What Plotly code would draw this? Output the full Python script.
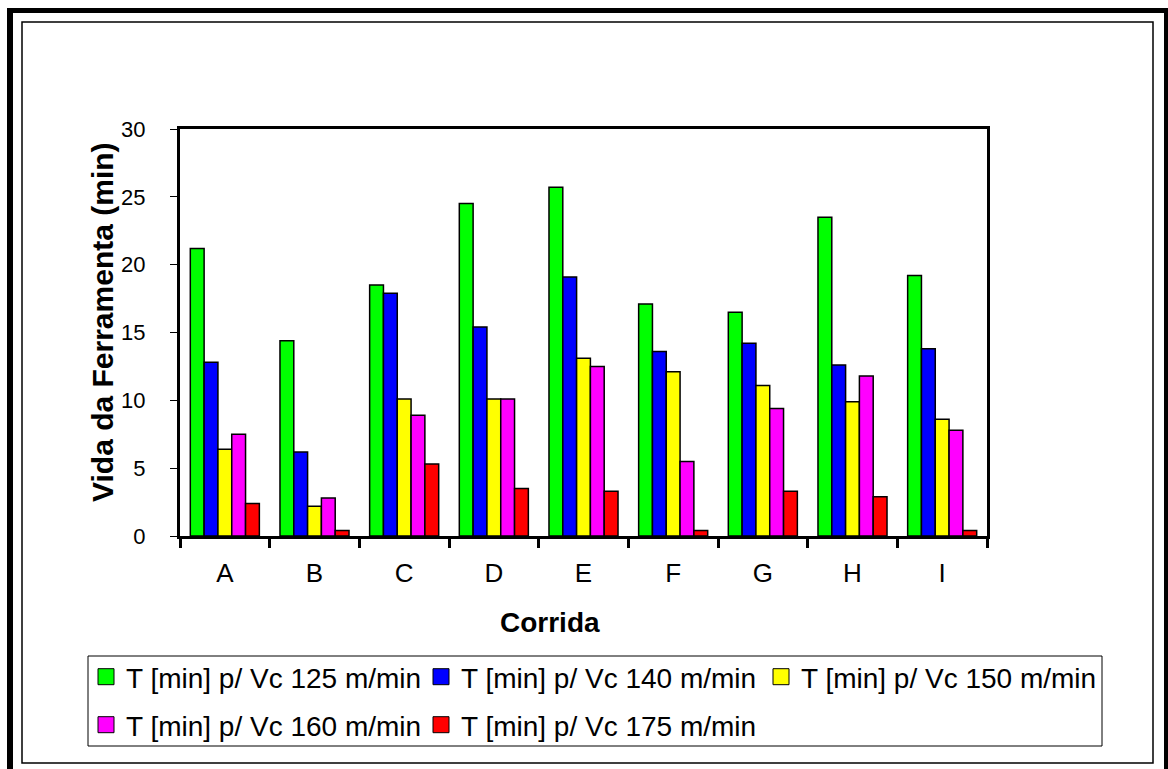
import plotly.graph_objects as go

corridas = ["A", "B", "C", "D", "E", "F", "G", "H", "I"]

vc125 = [21.2, 14.4, 18.5, 24.5, 25.7, 17.1, 16.5, 23.5, 19.2]
vc140 = [12.8, 6.2, 17.9, 15.4, 19.1, 13.6, 14.2, 12.6, 13.8]
vc150 = [6.4, 2.2, 10.1, 10.1, 13.1, 12.1, 11.1, 9.9, 8.6]
vc160 = [7.5, 2.8, 8.9, 10.1, 12.5, 5.5, 9.4, 11.8, 7.8]
vc175 = [2.4, 0.4, 5.3, 3.5, 3.3, 0.4, 3.3, 2.9, 0.4]

series = [
    ("T [min] p/ Vc 125 m/min", vc125, "#00FF00"),
    ("T [min] p/ Vc 140 m/min", vc140, "#0000FF"),
    ("T [min] p/ Vc 150 m/min", vc150, "#FFFF00"),
    ("T [min] p/ Vc 160 m/min", vc160, "#FF00FF"),
    ("T [min] p/ Vc 175 m/min", vc175, "#FF0000"),
]

W, H = 1168, 769
L, R, T, B = 180, 987, 129, 536
FONT = "Liberation Sans, Arial, sans-serif"

# legend entry positions (left x, centre y) in pixels, one legend per entry
leg_pos = [(86, 677), (421, 677), (761, 677), (86, 725), (421, 725)]


def xp(px):
    return (px - L) / (R - L)


def yp(py):
    return (B - py) / (B - T)


fig = go.Figure()
legends = {}
for i, (name, vals, col) in enumerate(series):
    key = "legend" if i == 0 else f"legend{i + 1}"
    fig.add_trace(go.Bar(
        x=corridas, y=vals, name=name, legendgroup=name, showlegend=False,
        marker=dict(color=col, line=dict(color="black", width=1.5)),
    ))
    # legend-only entry so the swatch is a bigger square like in Excel
    fig.add_trace(go.Scatter(
        x=[None], y=[None], mode="markers", name=name, legendgroup=name, legend=key,
        marker=dict(symbol="square", size=16, color=col, line=dict(color="black", width=1)),
    ))
    lx, ly = leg_pos[i]
    legends[key] = dict(orientation="h", xref="container", yref="container",
                        x=lx / W, xanchor="left", y=1 - ly / H, yanchor="middle",
                        font=dict(size=28), bgcolor="rgba(0,0,0,0)", borderwidth=0)

fig.update_layout(
    width=W, height=H,
    margin=dict(l=L, r=W - R, t=T, b=H - B),
    paper_bgcolor="white", plot_bgcolor="white",
    font=dict(family=FONT, color="black"),
    barmode="group", bargap=0.23, bargroupgap=0,
    showlegend=True,
    **legends,
)

fig.update_xaxes(
    type="category", showline=True, linewidth=3, linecolor="black", mirror=True,
    ticks="outside", tickson="boundaries", ticklen=9, tickwidth=3, tickcolor="black",
    tickfont=dict(size=26), ticklabelstandoff=12, showgrid=False, zeroline=False,
)
fig.update_yaxes(
    range=[0, 30], dtick=5, showline=True, linewidth=3, linecolor="black", mirror=True,
    ticks="outside", ticklen=7, tickwidth=1, tickcolor="black",
    tickfont=dict(size=22), ticklabelstandoff=20, showgrid=False, zeroline=False,
)

# axis titles
fig.add_annotation(text="<b>Corrida</b>", xref="paper", yref="paper",
                   x=xp(550), y=yp(622), xanchor="center", yanchor="middle",
                   showarrow=False, font=dict(size=28))
fig.add_annotation(text="<b>Vida da Ferramenta (min)</b>", xref="paper", yref="paper",
                   x=xp(102), y=yp(322), xanchor="center", yanchor="middle",
                   textangle=-90, showarrow=False, font=dict(size=30))


# frame and legend box
def rect(x0, y0, x1, y1, fill=None, lw=0):
    fig.add_shape(type="rect", xref="paper", yref="paper",
                  x0=xp(x0), x1=xp(x1), y0=yp(y0), y1=yp(y1),
                  fillcolor=fill if fill else "rgba(0,0,0,0)",
                  line=dict(color="black", width=lw), layer="above")


rect(7, 8, 1168, 13, fill="black")
rect(7, 8, 13, 769, fill="black")
rect(1164, 8, 1168, 769, fill="black")
rect(22, 22, 1153, 763, lw=1.5)
rect(88, 656, 1102, 746, lw=1)

fig.write_html("out.html", config={"displayModeBar": False},
               post_script="document.body.style.margin='0';document.body.style.overflow='hidden';")
